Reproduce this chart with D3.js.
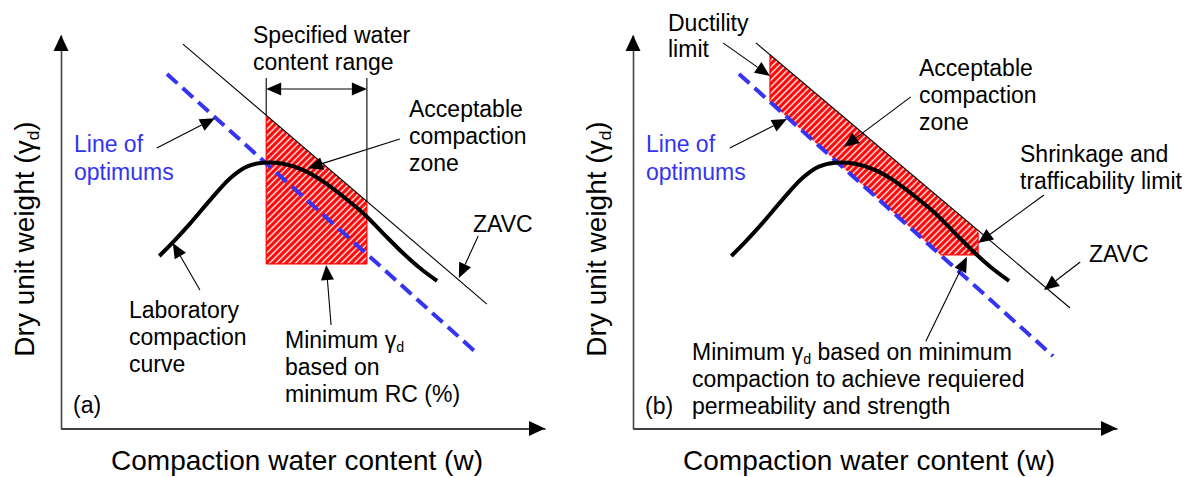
<!DOCTYPE html>
<html>
<head>
<meta charset="utf-8">
<script src="https://cdn.jsdelivr.net/npm/d3@7"></script>
<style>
  html, body { margin: 0; padding: 0; background: #fff; }
  svg { display: block; font-family: "Liberation Sans", Arial, sans-serif; }
</style>
</head>
<body>
<svg id="chart" width="1195" height="477"></svg>
<script>
// ---- Data (relative units: water content 0-100, dry unit weight 0-100) ----
// Laboratory compaction curve
const curveW     = [20.3, 23.2, 26.7, 30.8, 34.9, 38.4, 41.8, 45.9, 50.1, 54.2, 58.3, 62.5, 66.6, 70.7, 74.2, 77.7];
const curveGamma = [43.9, 47.5, 52.2, 58.1, 63.6, 66.6, 67.6, 67.3, 65.7, 62.8, 59.0, 54.7, 49.6, 44.6, 40.8, 37.6];

// Zero air voids curve (ZAVC) end points, panel (a) and (b)
const zavcWA = [25.2, 88.0], zavcGammaA = [97.7, 31.7];
const zavcWB = [25.4, 90.3], zavcGammaB = [98.0, 30.7];

// Line of optimums end points, panel (a) and (b)
const optWA = [21.9, 85.7], optGammaA = [90.1, 19.5];
const optWB = [21.9, 86.8], optGammaB = [90.1, 18.5];

// Panel (a): specified water content range and minimum dry unit weight from RC
const specifiedRange = [42.4, 63.2];
const minGammaA = 41.9;

// Panel (b): ductility limit, shrinkage/trafficability limit, minimum dry unit weight
const ductilityW = 28.3;
const shrinkageW = 71.3;
const minGammaB = 44.2;

const xTitle = "Compaction water content (w)";
const yTitle = "Dry unit weight (γ_d)";

// ---- Layout ----
const svg = d3.select("#chart");
const xS = d3.scaleLinear().domain([0, 100]).range([61, 545]);
const yS = d3.scaleLinear().domain([0, 100]).range([429, 35]);
const panelShift = 572;
const FONT = 23;
const BLUE = "#3434f2";

// stripe pattern for the acceptable zone
const defs = svg.append("defs");
const pat = defs.append("pattern")
  .attr("id", "stripes").attr("patternUnits", "userSpaceOnUse")
  .attr("width", 4.6).attr("height", 10)
  .attr("patternTransform", "rotate(45)");
pat.append("rect").attr("width", 4.6).attr("height", 10).attr("fill", "#ffffff");
pat.append("rect").attr("x", 0).attr("width", 3.6).attr("height", 10).attr("fill", "#ff6a6a");
pat.append("rect").attr("x", 0.5).attr("width", 2.6).attr("height", 10).attr("fill", "#ff0000");

const lerp = (ws, gs) => w => gs[0] + (gs[1] - gs[0]) * (w - ws[0]) / (ws[1] - ws[0]);
const inv = (ws, gs) => g => ws[0] + (ws[1] - ws[0]) * (g - gs[0]) / (gs[1] - gs[0]);

function addText(g, x, y, str, opts = {}) {
  const size = opts.size || FONT;
  const t = g.append("text").attr("x", x).attr("y", y)
    .attr("font-size", size).attr("fill", opts.fill || "#000")
    .attr("text-anchor", opts.anchor || "start");
  if (opts.transform) t.attr("transform", opts.transform);
  const parts = str.split("_d");
  parts.forEach((p, i) => {
    if (i > 0) {
      t.append("tspan").attr("font-size", size * 0.62).attr("dy", size * 0.18).text("d");
      if (p !== "") t.append("tspan").attr("dy", -size * 0.18).text(p);
    } else {
      t.append("tspan").text(p);
    }
  });
  return t;
}

function arrowHead(g, x1, y1, x2, y2, len, half) {
  const dx = x2 - x1, dy = y2 - y1, L = Math.hypot(dx, dy);
  const ux = dx / L, uy = dy / L;
  const bx = x2 - ux * len, by = y2 - uy * len;
  g.append("path")
    .attr("d", `M${x2},${y2}L${bx - uy * half},${by + ux * half}L${bx + uy * half},${by - ux * half}Z`)
    .attr("fill", "#000");
  return [bx, by];
}

function arrow(g, w1, g1, w2, g2, both = false) {
  const x1 = xS(w1), y1 = yS(g1), x2 = xS(w2), y2 = yS(g2);
  const len = 15, half = 6.5;
  const [bx, by] = arrowHead(g, x1, y1, x2, y2, len, half);
  let sx = x1, sy = y1;
  if (both) [sx, sy] = arrowHead(g, x2, y2, x1, y1, len, half);
  g.append("line").attr("x1", sx).attr("y1", sy).attr("x2", bx).attr("y2", by)
    .attr("stroke", "#000").attr("stroke-width", 1.1);
}

function drawPanel(g, zw, zg, ow, og, region, edges) {
  // acceptable compaction zone
  g.append("path").attr("d", d3.line().x(d => xS(d[0])).y(d => yS(d[1]))(region) + "Z")
    .attr("fill", "url(#stripes)");
  edges.forEach(e => {
    g.append("line").attr("x1", xS(e[0][0])).attr("y1", yS(e[0][1]))
      .attr("x2", xS(e[1][0])).attr("y2", yS(e[1][1]))
      .attr("stroke", "#ff0000").attr("stroke-width", 1.2);
  });

  // axes with arrow tips
  const xAxis = g.append("g").attr("transform", `translate(0,${yS(0) - 0.5})`)
    .call(d3.axisBottom(xS).tickValues([]).tickSizeOuter(0));
  xAxis.select(".domain").attr("stroke", "#000").attr("stroke-width", 1.3);
  const yAxis = g.append("g").attr("transform", `translate(${xS(0)},0)`)
    .call(d3.axisLeft(yS).tickValues([]).tickSizeOuter(0));
  yAxis.select(".domain").attr("stroke", "#444").attr("stroke-width", 1.6);
  arrowHead(g, xS(0), yS(0) - 0.5, xS(100), yS(0) - 0.5, 16, 7.5);
  arrowHead(g, xS(0), yS(0), xS(0), yS(100), 16, 7.5);

  // ZAVC
  g.append("line").attr("x1", xS(zw[0])).attr("y1", yS(zg[0]))
    .attr("x2", xS(zw[1])).attr("y2", yS(zg[1]))
    .attr("stroke", "#000").attr("stroke-width", 1.1);

  // line of optimums
  g.append("line").attr("x1", xS(ow[0])).attr("y1", yS(og[0]))
    .attr("x2", xS(ow[1])).attr("y2", yS(og[1]))
    .attr("stroke", BLUE).attr("stroke-width", 4).attr("stroke-dasharray", "14,7");

  // laboratory compaction curve
  g.append("path")
    .attr("d", d3.line().x((d, i) => xS(curveW[i])).y(d => yS(d)).curve(d3.curveCatmullRom)(curveGamma))
    .attr("fill", "none").attr("stroke", "#000").attr("stroke-width", 4);

  // axis titles
  addText(g, 297, 470, xTitle, { size: 28, anchor: "middle" });
  addText(g, 0, 0, yTitle, { size: 28, anchor: "middle", transform: "translate(34,239) rotate(-90)" });
}

// ---- Panel (a) ----
const gA = svg.append("g");
{
  const zav = lerp(zavcWA, zavcGammaA);
  const [w1, w2] = specifiedRange;
  const region = [[w1, zav(w1)], [w2, zav(w2)], [w2, minGammaA], [w1, minGammaA]];
  const edges = [
    [[w1, zav(w1)], [w1, minGammaA]],
    [[w1, minGammaA], [w2, minGammaA]],
    [[w2, minGammaA], [w2, zav(w2) - 0.5]]
  ];
  drawPanel(gA, zavcWA, zavcGammaA, optWA, optGammaA, region, edges);

  // specified water content range
  [w1, w2].forEach(w => {
    gA.append("line").attr("x1", xS(w)).attr("y1", yS(89.1)).attr("x2", xS(w)).attr("y2", yS(zav(w)))
      .attr("stroke", "#000").attr("stroke-width", 1.1);
  });
  arrow(gA, w1, 86.3, w2, 86.3, true);

  arrow(gA, 19.8, 71.3, 31.8, 78.9);   // line of optimums
  arrow(gA, 70.0, 73.6, 51.0, 66.2);   // acceptable zone
  arrow(gA, 86.2, 49.0, 82.2, 38.3);   // ZAVC
  arrow(gA, 28.7, 35.3, 23.1, 47.2);   // lab curve
  arrow(gA, 55.8, 26.4, 54.8, 41.6);   // minimum dry unit weight

  const lines = (x, y0, dy, arr, opts) => arr.forEach((s, i) => addText(gA, x, y0 + i * dy, s, opts));
  lines(253, 43, 27, ["Specified water", "content range"]);
  lines(409, 117, 27, ["Acceptable", "compaction", "zone"]);
  lines(74, 152, 28, ["Line of", "optimums"], { fill: BLUE });
  addText(gA, 473, 232, "ZAVC");
  lines(129, 318, 27, ["Laboratory", "compaction", "curve"]);
  lines(285, 348, 27, ["Minimum γ_d", "based on", "minimum RC (%)"]);
  addText(gA, 73, 413, "(a)");
}

// ---- Panel (b) ----
const gB = svg.append("g").attr("transform", `translate(${panelShift},0)`);
{
  const zav = lerp(zavcWB, zavcGammaB);
  const opt = lerp(optWB, optGammaB);
  const wMin = inv(optWB, optGammaB)(minGammaB);
  const region = [];
  region.push([ductilityW, zav(ductilityW)]);
  region.push([shrinkageW, zav(shrinkageW)]);
  region.push([shrinkageW, minGammaB]);
  region.push([wMin, minGammaB]);
  region.push([ductilityW, opt(ductilityW)]);
  const edges = [
    [[ductilityW, zav(ductilityW)], [ductilityW, opt(ductilityW)]],
    [[wMin, minGammaB], [shrinkageW, minGammaB]],
    [[shrinkageW, minGammaB], [shrinkageW, zav(shrinkageW) - 0.5]]
  ];
  drawPanel(gB, zavcWB, zavcGammaB, optWB, optGammaB, region, edges);

  arrow(gB, 18.6, 98.0, 28.3, 89.6);   // ductility limit
  arrow(gB, 20.0, 71.3, 31.8, 78.7);   // line of optimums
  arrow(gB, 57.4, 84.3, 43.6, 71.6);   // acceptable zone
  arrow(gB, 84.9, 59.4, 71.3, 47.2);   // shrinkage limit
  arrow(gB, 92.4, 42.4, 84.9, 35.3);   // ZAVC
  arrow(gB, 60.5, 22.3, 69.0, 43.7);   // minimum dry unit weight

  const lines = (x, y0, dy, arr, opts) => arr.forEach((s, i) => addText(gB, x, y0 + i * dy, s, opts));
  lines(96, 31, 26, ["Ductility", "limit"]);
  lines(347, 76, 27, ["Acceptable", "compaction", "zone"]);
  lines(74, 152, 28, ["Line of", "optimums"], { fill: BLUE });
  lines(448, 162, 27, ["Shrinkage and", "trafficability limit"]);
  addText(gB, 517, 262, "ZAVC");
  lines(120, 360, 27, ["Minimum γ_d based on minimum", "compaction to achieve requiered", "permeability and strength"]);
  addText(gB, 73, 414, "(b)");
}
</script>
</body>
</html>
